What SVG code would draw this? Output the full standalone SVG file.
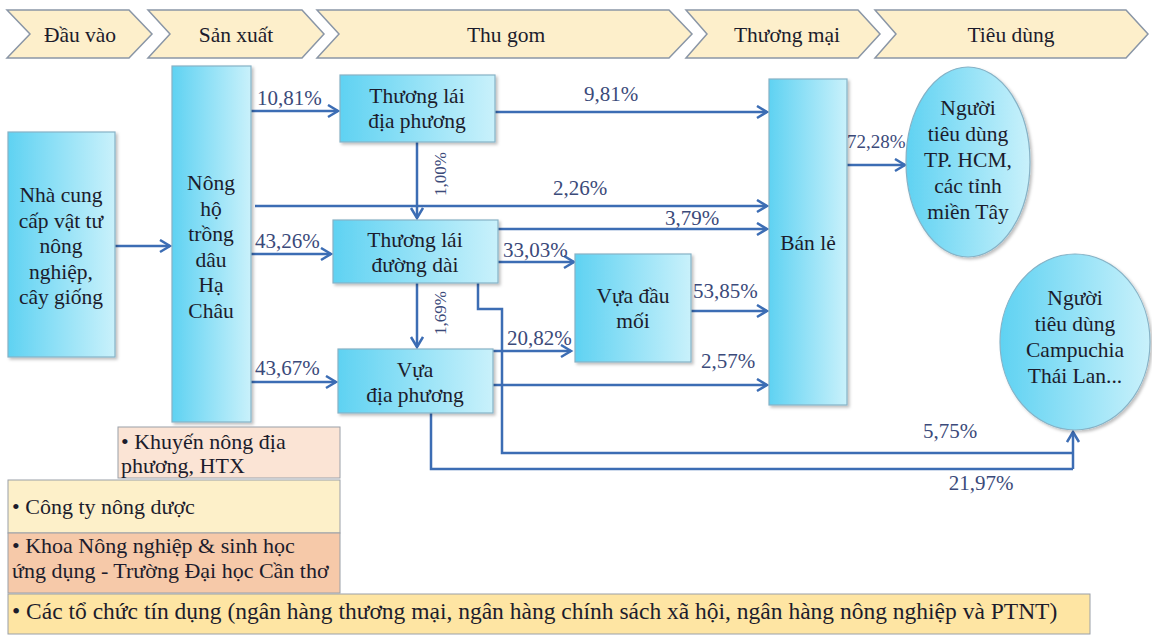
<svg xmlns="http://www.w3.org/2000/svg" width="1152" height="635" viewBox="0 0 1152 635" font-family="'Liberation Serif', 'DejaVu Serif', 'Times New Roman', serif">
<style>
text{font-family:"Liberation Serif","DejaVu Serif","Times New Roman",serif}
.chev{fill:#fdefcb;stroke:#8a96a6;stroke-width:1.5}
.ct{font-size:21.5px;fill:#1c1c2c;text-anchor:middle}
.node{fill:url(#g);stroke:#86b2c6;stroke-width:1.2;filter:url(#sh)}
.nt{font-size:21.5px;fill:#1c1c2c;text-anchor:middle}
.pl{font-size:21px;fill:#3b4a7a}
.pr{font-size:17px;fill:#3b4a7a;text-anchor:middle}
.c{fill:none;stroke:#3c6db4;stroke-width:2.5}
.ca{fill:none;stroke:#3c6db4;stroke-width:2.5;marker-end:url(#ah)}
.bt{font-size:22px;fill:#1c1c2c}
.bx{stroke:#9aa0a8;stroke-width:1}
</style>
<defs>
<linearGradient id="g" x1="0" y1="0" x2="1" y2="0">
<stop offset="0" stop-color="#5fd2f2"/>
<stop offset="1" stop-color="#c9f1fb"/>
</linearGradient>
<filter id="sh" x="-10%" y="-10%" width="130%" height="130%">
<feDropShadow dx="2" dy="2" stdDeviation="1.5" flood-color="#000" flood-opacity="0.25"/>
</filter>
<marker id="ah" markerUnits="userSpaceOnUse" markerWidth="16" markerHeight="16" refX="11" refY="7" orient="auto">
<path d="M1,1 L11,7 L1,13" fill="none" stroke="#3c6db4" stroke-width="2.5"/>
</marker>
</defs>

<g id="stages">
<path class="chev" d="M7,10 L129,10 L152,34 L129,58 L7,58 L30,34 Z"/>
<path class="chev" d="M148,10 L302,10 L324,34 L302,58 L148,58 L170,34 Z"/>
<path class="chev" d="M317,10 L669,10 L692,34 L669,58 L317,58 L339,34 Z"/>
<path class="chev" d="M686,10 L858,10 L880,34 L858,58 L686,58 L707,34 Z"/>
<path class="chev" d="M875,10 L1126,10 L1148,34 L1126,58 L875,58 L896,34 Z"/>
<text class="ct" x="80" y="42">Đầu vào</text>
<text class="ct" x="236" y="42">Sản xuất</text>
<text class="ct" x="506" y="42">Thu gom</text>
<text class="ct" x="787" y="42">Thương mại</text>
<text class="ct" x="1011" y="42">Tiêu dùng</text>
</g>

<g id="connectors">
<line class="ca" x1="115" y1="246" x2="170" y2="246"/>
<line class="ca" x1="251" y1="111" x2="338" y2="111"/>
<line class="ca" x1="255" y1="206" x2="767" y2="206"/>
<line class="ca" x1="251" y1="254" x2="331" y2="254"/>
<line class="ca" x1="251" y1="382" x2="336" y2="382"/>
<line class="ca" x1="495" y1="112" x2="767" y2="112"/>
<line class="ca" x1="417" y1="142" x2="417" y2="218"/>
<line class="ca" x1="498" y1="229" x2="767" y2="229"/>
<line class="ca" x1="498" y1="262" x2="574" y2="262"/>
<line class="ca" x1="417" y1="283" x2="417" y2="347"/>
<line class="ca" x1="493" y1="351" x2="571" y2="351"/>
<line class="ca" x1="493" y1="385" x2="767" y2="385"/>
<line class="ca" x1="691" y1="311" x2="767" y2="311"/>
<line class="ca" x1="847" y1="165" x2="905" y2="165"/>
<polyline class="c" points="478,283 478,309 502,309 502,453 1073,453"/>
<polyline class="c" points="431,413 431,469 1073,469"/>
<line class="ca" x1="1073" y1="469" x2="1073" y2="432"/>
<text class="pl" x="257" y="105">10,81%</text>
<text class="pl" x="611" y="101" text-anchor="middle">9,81%</text>
<text class="pl" x="580" y="195" text-anchor="middle">2,26%</text>
<text class="pl" x="255" y="248">43,26%</text>
<text class="pl" x="692" y="225" text-anchor="middle">3,79%</text>
<text class="pl" x="503" y="257">33,03%</text>
<text class="pl" x="693" y="298">53,85%</text>
<text class="pl" x="507" y="345">20,82%</text>
<text class="pl" x="255" y="375">43,67%</text>
<text class="pl" x="728" y="368" text-anchor="middle">2,57%</text>
<text class="pl" x="847" y="148" style="font-size:19px">72,28%</text>
<text class="pl" x="950" y="438" text-anchor="middle">5,75%</text>
<text class="pl" x="981" y="490" text-anchor="middle">21,97%</text>
<text class="pr" x="446" y="174" transform="rotate(-90 446 174)">1,00%</text>
<text class="pr" x="446" y="313" transform="rotate(-90 446 313)">1,69%</text>
</g>

<g id="node-supplier">
<rect class="node" x="8" y="132" width="107" height="225"/>
<text class="nt" x="61" y="202">Nhà cung</text>
<text class="nt" x="61" y="227.5">cấp vật tư</text>
<text class="nt" x="61" y="253">nông</text>
<text class="nt" x="61" y="278.5">nghiệp,</text>
<text class="nt" x="61" y="304">cây giống</text>
</g>

<g id="node-farmer">
<rect class="node" x="172" y="66" width="79" height="356"/>
<text class="nt" x="211" y="190">Nông</text>
<text class="nt" x="211" y="215.5">hộ</text>
<text class="nt" x="211" y="241">trồng</text>
<text class="nt" x="211" y="266.5">dâu</text>
<text class="nt" x="211" y="292">Hạ</text>
<text class="nt" x="211" y="317.5">Châu</text>
</g>

<g id="node-local-trader">
<rect class="node" x="340" y="75" width="155" height="67"/>
<text class="nt" x="417" y="103">Thương lái</text>
<text class="nt" x="417" y="128">địa phương</text>
</g>

<g id="node-long-trader">
<rect class="node" x="333" y="220" width="165" height="63"/>
<text class="nt" x="415" y="247">Thương lái</text>
<text class="nt" x="415" y="272">đường dài</text>
</g>

<g id="node-wholesale">
<rect class="node" x="575" y="254" width="116" height="108"/>
<text class="nt" x="633" y="303">Vựa đầu</text>
<text class="nt" x="633" y="328">mối</text>
</g>

<g id="node-local-depot">
<rect class="node" x="338" y="349" width="155" height="64"/>
<text class="nt" x="415" y="377">Vựa</text>
<text class="nt" x="415" y="402">địa phương</text>
</g>

<g id="node-retail">
<rect class="node" x="769" y="79" width="78" height="326"/>
<text class="nt" x="808" y="250">Bán lẻ</text>
</g>

<g id="node-consumer-domestic">
<ellipse class="node" cx="968" cy="162" rx="62" ry="95"/>
<text class="nt" x="968" y="115">Người</text>
<text class="nt" x="968" y="141">tiêu dùng</text>
<text class="nt" x="968" y="167">TP. HCM,</text>
<text class="nt" x="968" y="193">các tỉnh</text>
<text class="nt" x="968" y="219">miền Tây</text>
</g>

<g id="node-consumer-export">
<ellipse class="node" cx="1075" cy="342" rx="75" ry="88"/>
<text class="nt" x="1075" y="305">Người</text>
<text class="nt" x="1075" y="331">tiêu dùng</text>
<text class="nt" x="1075" y="357">Campuchia</text>
<text class="nt" x="1075" y="383">Thái Lan...</text>
</g>

<g id="support-extension">
<rect class="bx" x="118" y="427" width="222" height="51" fill="#fbe4d5"/>
<text class="bt" x="121" y="449">• Khuyến nông địa</text>
<text class="bt" x="121" y="473">phương, HTX</text>
</g>

<g id="support-pesticide">
<rect class="bx" x="8" y="480" width="332" height="53" fill="#fdf0c9"/>
<text class="bt" x="12" y="514">• Công ty nông dược</text>
</g>

<g id="support-university">
<rect class="bx" x="8" y="533" width="332" height="60" fill="#f6c9a9"/>
<text class="bt" x="12" y="553">• Khoa Nông nghiệp &amp; sinh học</text>
<text class="bt" x="12" y="578">ứng dụng - Trường Đại học Cần thơ</text>
</g>

<g id="support-credit">
<rect class="bx" x="8" y="594" width="1082" height="40" fill="#fee5a3"/>
<text class="bt" x="12" y="619" style="font-size:23.5px">• Các tổ chức tín dụng (ngân hàng thương mại, ngân hàng chính sách xã hội, ngân hàng nông nghiệp và PTNT)</text>
</g>
</svg>
